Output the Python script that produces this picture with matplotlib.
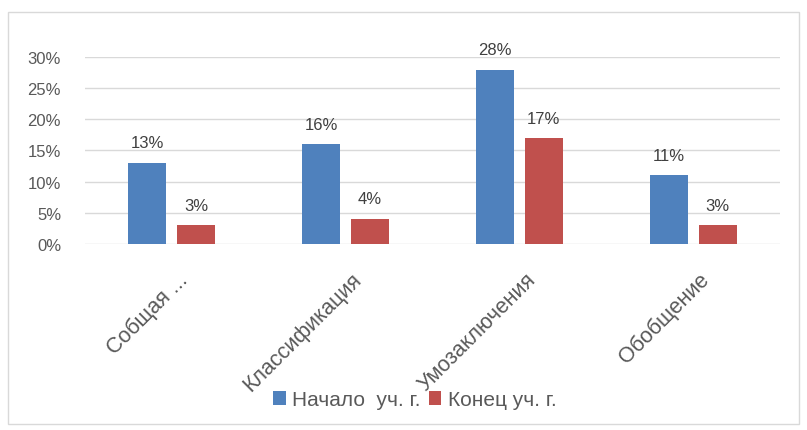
import matplotlib.pyplot as plt
from matplotlib.patches import Rectangle
import numpy as np

categories = ['Собщая ...', 'Классификация', 'Умозаключения', 'Обобщение']
start_year = [0.13, 0.16, 0.28, 0.11]
end_year = [0.03, 0.04, 0.17, 0.03]
series_names = ['Начало  уч. г.', 'Конец уч. г.']
yticks = [0, 0.05, 0.10, 0.15, 0.20, 0.25, 0.30]

plt.rcParams['font.family'] = ['Liberation Sans', 'DejaVu Sans']

fig = plt.figure(figsize=(8.07, 4.31), dpi=100)
fig.patches.append(Rectangle((0.01, 0.015), 0.98, 0.955, transform=fig.transFigure,
                             fill=False, edgecolor='#d9d9d9', linewidth=1))
ax = fig.add_axes([0.105, 0.432, 0.862, 0.433])

x = np.arange(len(categories))
w = 0.22
b1 = ax.bar(x - 0.14, start_year, w, color='#4F81BD', label=series_names[0], zorder=3)
b2 = ax.bar(x + 0.14, end_year, w, color='#C0504D', label=series_names[1], zorder=3)

for bars in (b1, b2):
    for r in bars:
        ax.annotate(f'{r.get_height() * 100:.0f}%',
                    (r.get_x() + r.get_width() / 2, r.get_height()),
                    xytext=(0, 9), textcoords='offset points',
                    ha='center', va='bottom', fontsize=12, color='#404040')

ax.set_xlim(-0.5, 3.5)
ax.set_ylim(0, 0.30)
ax.set_yticks(yticks)
ax.set_yticklabels([f'{t * 100:.0f}%' for t in yticks])
ax.yaxis.grid(True, color='#d9d9d9', linewidth=1, zorder=0)
ax.set_xticks(x + 0.03)
ax.set_xticklabels(categories, rotation=45, ha='right', va='top', rotation_mode='anchor',
                   fontsize=15.5)
ax.tick_params(length=0, colors='#595959')
ax.tick_params(axis='y', labelsize=12, pad=17)
ax.tick_params(axis='x', pad=18)
for s in ax.spines.values():
    s.set_visible(False)

fig.legend(loc='center', bbox_to_anchor=(0.514, 0.07), ncol=2, frameon=False,
           fontsize=15, handlelength=0.6, handleheight=0.6, handletextpad=0.3,
           columnspacing=0.4, labelcolor='#595959')

fig.savefig('out.png', dpi=100)
